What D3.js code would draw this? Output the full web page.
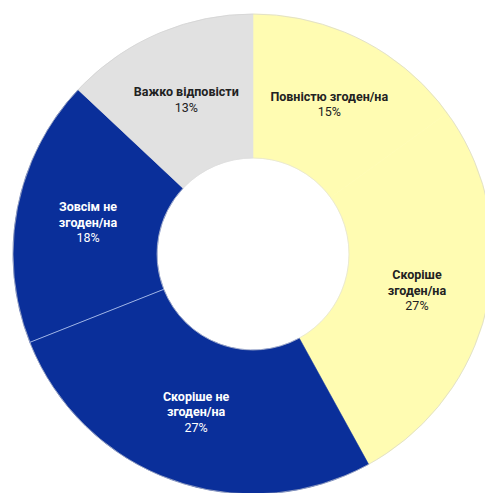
<!DOCTYPE html>
<html>
<head>
<meta charset="utf-8">
<script src="https://cdn.jsdelivr.net/npm/d3@7"></script>
<style>
  html, body { margin: 0; padding: 0; background: #fff; }
  svg { display: block; }
</style>
</head>
<body>
<svg id="chart" width="485" height="493"></svg>
<script>
// Survey answers, clockwise from 12 o'clock
const categories = [
  ["Повністю згоден/на"],
  ["Скоріше", "згоден/на"],
  ["Скоріше не", "згоден/на"],
  ["Зовсім не", "згоден/на"],
  ["Важко відповісти"]
];
const values = [15, 27, 27, 18, 13];
const colors = ["#FFFCB2", "#FFFCB2", "#0A2F9A", "#0A2F9A", "#E1E1E1"];
const textColors = ["#222222", "#222222", "#FFFFFF", "#FFFFFF", "#222222"];

const svg = d3.select("#chart");
const cx = 253, cy = 254;
const outerR = 240, innerR = 96;

const g = svg.append("g").attr("transform", `translate(${cx},${cy})`);

const pie = d3.pie().sort(null).value(d => d)(values);
const arc = d3.arc().innerRadius(innerR).outerRadius(outerR);
const labelArc = d3.arc().innerRadius(innerR + 12).outerRadius(outerR - 12);

g.selectAll("path.slice")
  .data(pie)
  .join("path")
  .attr("class", "slice")
  .attr("d", arc)
  .attr("fill", (d, i) => colors[i])
  .attr("stroke", (d, i) => colors[i])
  .attr("stroke-width", 0.6);

// faint outline of the ring
g.append("circle").attr("r", outerR).attr("fill", "none")
  .attr("stroke", "#cfcfcf").attr("stroke-width", 0.6);
g.append("circle").attr("r", innerR).attr("fill", "none")
  .attr("stroke", "#dcdcdc").attr("stroke-width", 0.6);

// thin separator where two slices share the same colour
pie.forEach((d, i) => {
  const prev = (i + pie.length - 1) % pie.length;
  if (i > 0 && colors[prev] === colors[i] && colors[i] === "#0A2F9A") {
    const a = d.startAngle;
    g.append("line")
      .attr("x1", innerR * Math.sin(a)).attr("y1", -innerR * Math.cos(a))
      .attr("x2", outerR * Math.sin(a)).attr("y2", -outerR * Math.cos(a))
      .attr("stroke", "#9fb4e6").attr("stroke-width", 1);
  }
});

const lineH = 15.5;
g.selectAll("text.label")
  .data(pie)
  .join("text")
  .attr("class", "label")
  .attr("text-anchor", "middle")
  .attr("font-family", "Roboto, 'Liberation Sans', sans-serif")
  .attr("font-size", 12.5)
  .attr("fill", (d, i) => textColors[i])
  .each(function (d, i) {
    const [x, y] = labelArc.centroid(d);
    const lines = categories[i];
    const n = lines.length + 1;
    const y0 = y - (n - 1) * lineH / 2 + 4;
    const t = d3.select(this);
    lines.forEach((s, k) => {
      t.append("tspan")
        .attr("x", x).attr("y", y0 + k * lineH)
        .attr("font-weight", "bold")
        .text(s);
    });
    t.append("tspan")
      .attr("x", x).attr("y", y0 + lines.length * lineH)
      .text(values[i] + "%");
  });
</script>
</body>
</html>
